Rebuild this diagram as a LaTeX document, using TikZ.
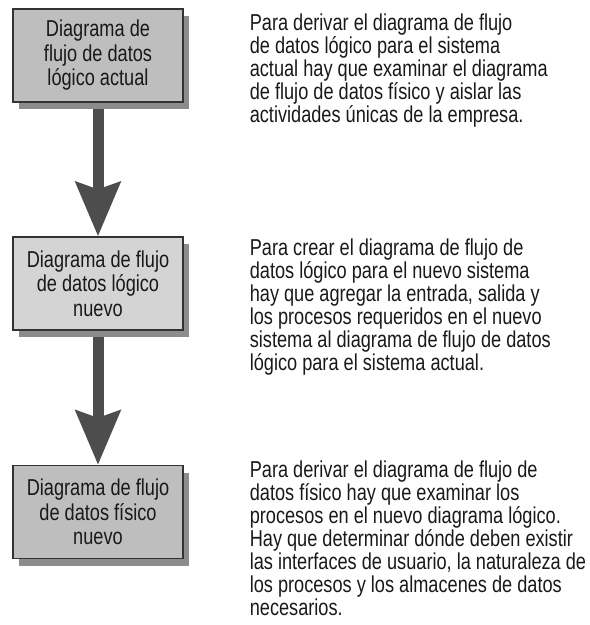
\documentclass[tikz,border=0pt]{standalone}
\usepackage{fontspec}
\setmainfont{Liberation Sans}[FakeStretch=0.79]
\usepackage{tikz}
\usetikzlibrary{arrows.meta,positioning,shadows,backgrounds}
\definecolor{boxdark}{HTML}{BEBEBE}
\definecolor{boxlight}{HTML}{D4D4D4}
\definecolor{shadowgray}{HTML}{8C8C8C}
\definecolor{arrowgray}{HTML}{4D4D4D}
\definecolor{edgegray}{HTML}{333333}

\begin{document}
\begin{tikzpicture}[
  x=1pt, y=-1pt,
  dfd/.style={
    rectangle, minimum width=170pt, minimum height=93pt, inner sep=0pt,
    align=center, draw=edgegray, line width=1.2pt, fill=boxdark,
    text=black!90, font=\fontsize{23pt}{24.5pt}\selectfont,
    drop shadow={shadow xshift=6pt, shadow yshift=-7pt, fill=shadowgray, opacity=1}
  },
  note/.style={
    anchor=north west, inner sep=0pt, align=left,
    text=black!90, font=\fontsize{23pt}{23pt}\selectfont
  },
  flow/.style={
    draw=arrowgray, line width=11pt,
    -{Stealth[length=54pt, width=44pt, inset=7pt]}
  }
]
\useasboundingbox (0,0) rectangle (590,625);
% Left column
\node[dfd] (lact) at (98,55.5) {Diagrama de\\flujo de datos\\lógico actual};
\node[dfd, fill=boxlight] (lnew) at (98,283.5) {Diagrama de flujo\\de datos lógico\\nuevo};
\node[dfd] (fnew) at (98,512) {Diagrama de flujo\\de datos físico\\nuevo};
% Right column
\node[note, below right=5pt and 66pt of lact.north east] (tact) {Para derivar el diagrama de flujo\\de datos lógico para el sistema\\actual hay que examinar el diagrama\\de flujo de datos físico y aislar las\\actividades únicas de la empresa.};
\node[note, below right=2pt and 66pt of lnew.north east] (tnew) {Para crear el diagrama de flujo de\\datos lógico para el nuevo sistema\\hay que agregar la entrada, salida y\\los procesos requeridos en el nuevo\\sistema al diagrama de flujo de datos\\lógico para el sistema actual.};
\node[note, below right=-4pt and 66pt of fnew.north east] (tfis) {Para derivar el diagrama de flujo de\\datos físico hay que examinar los\\procesos en el nuevo diagrama lógico.\\Hay que determinar dónde deben existir\\las interfaces de usuario, la naturaleza de\\los procesos y los almacenes de datos\\necesarios.};
% Arrows
\begin{scope}[on background layer]
\draw[flow] (lact) -- (lnew);
\draw[flow] (lnew) -- (fnew);
\end{scope}
\end{tikzpicture}
\end{document}
